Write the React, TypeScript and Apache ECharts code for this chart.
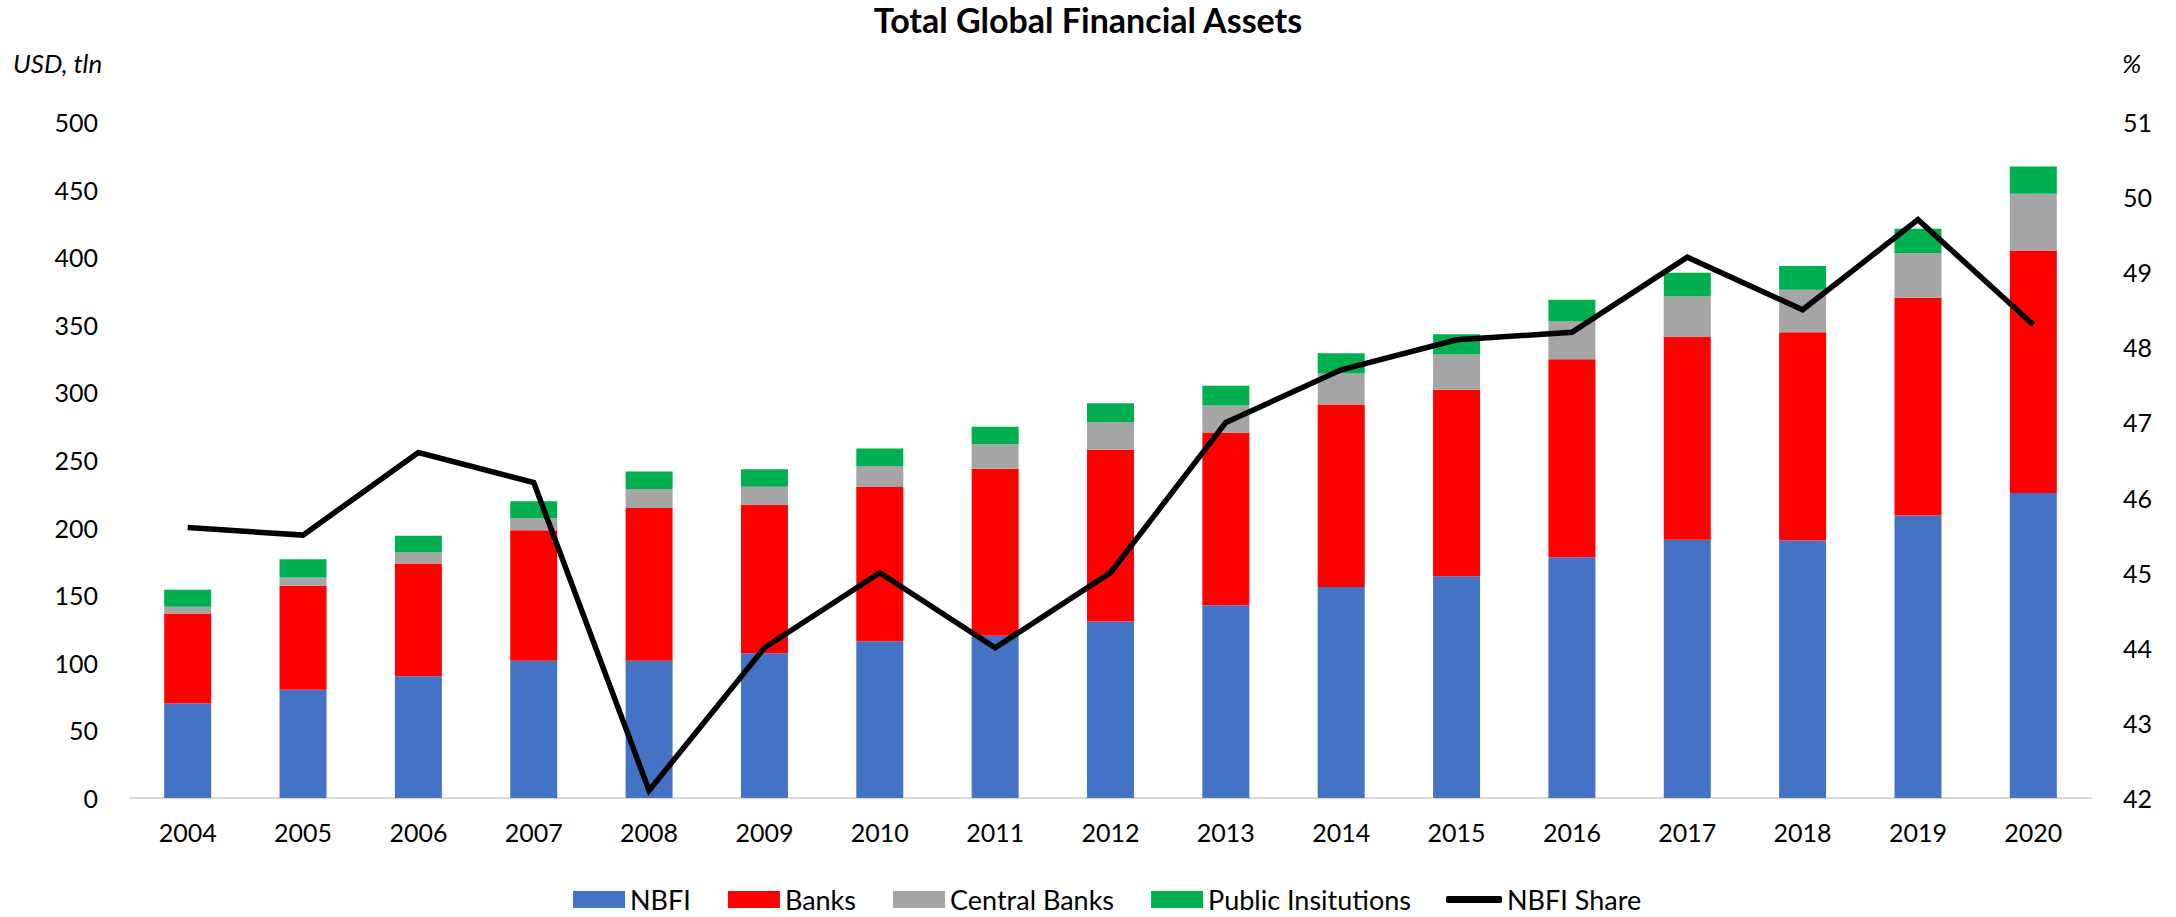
import React, { useEffect, useRef } from "react";
import * as echarts from "echarts";

const years = ["2004","2005","2006","2007","2008","2009","2010","2011","2012","2013","2014","2015","2016","2017","2018","2019","2020"];
const nbfi = [70, 80, 90, 101.5, 101.5, 107, 116, 120, 130.5, 142.5, 156, 164, 178, 191, 190.5, 209, 225.5];
const banks = [66.5, 77, 83.5, 96.5, 113, 109.7, 114, 123.6, 127, 127.4, 135, 138, 146.5, 150, 154, 161, 179.5];
const centralBanks = [5, 6, 8, 9, 14, 13.5, 15.5, 18, 20.5, 20.5, 23, 26, 28, 30, 31.5, 33, 42];
const publicInst = [12.5, 13.5, 12.5, 12.5, 13, 13, 13, 13, 14, 14.5, 15, 15, 16, 17.5, 17.5, 18, 20];
const nbfiShare = [45.6, 45.5, 46.6, 46.2, 42.1, 44.0, 45.0, 44.0, 45.0, 47.0, 47.7, 48.1, 48.2, 49.2, 48.5, 49.7, 48.3];

const FONT = "Lato, 'Noto Sans', sans-serif";

export default function App() {
  const ref = useRef<HTMLDivElement>(null);
  useEffect(() => {
    if (!ref.current) return;
    const chart = echarts.init(ref.current, null, { renderer: "svg" });
    const barW = 47;
    const legendText = { fontFamily: FONT, fontSize: 27, color: "#000", lineHeight: 24 };
    chart.setOption({
      animation: false,
      backgroundColor: "#ffffff",
      textStyle: { fontFamily: FONT },
      title: {
        text: "Total Global Financial Assets",
        left: "center",
        top: -3,
        textStyle: { fontFamily: FONT, fontSize: 34, fontWeight: "bold", color: "#000" },
      },
      graphic: [
        { type: "text", left: 13, top: 50, style: { text: "USD, tln", font: `italic 26px ${FONT}`, fill: "#000" } },
        { type: "text", left: 2122, top: 50, style: { text: "%", font: `italic 26px ${FONT}`, fill: "#000" } },
      ],
      legend: [
        {
          top: 881,
          left: 568,
          itemWidth: 52,
          itemHeight: 17,
          itemGap: 37,
          icon: "rect",
          textStyle: legendText,
          data: ["NBFI", "Banks", "Central Banks", "Public Insitutions"],
        },
        {
          top: 881,
          left: 1441,
          itemWidth: 56,
          itemHeight: 7,
          icon: "roundRect",
          textStyle: legendText,
          data: ["NBFI Share"],
        },
      ],
      grid: { left: 130, right: 85, top: 122, bottom: 119, containLabel: false },
      xAxis: {
        type: "category",
        data: years,
        axisLine: { lineStyle: { color: "#D9D9D9", width: 2 } },
        axisTick: { show: false },
        axisLabel: { fontFamily: FONT, fontSize: 25, color: "#000", margin: 21 },
      },
      yAxis: [
        {
          type: "value",
          min: 0,
          max: 500,
          interval: 50,
          splitLine: { show: false },
          axisLine: { show: false },
          axisTick: { show: false },
          axisLabel: { fontFamily: FONT, fontSize: 25, color: "#000", margin: 32 },
        },
        {
          type: "value",
          min: 42,
          max: 51,
          interval: 1,
          splitLine: { show: false },
          axisLine: { show: false },
          axisTick: { show: false },
          axisLabel: { fontFamily: FONT, fontSize: 25, color: "#000", margin: 32 },
        },
      ],
      series: [
        { name: "NBFI", type: "bar", stack: "a", barWidth: barW, data: nbfi, itemStyle: { color: "#4472C4" } },
        { name: "Banks", type: "bar", stack: "a", barWidth: barW, data: banks, itemStyle: { color: "#FF0000" } },
        { name: "Central Banks", type: "bar", stack: "a", barWidth: barW, data: centralBanks, itemStyle: { color: "#A5A5A5" } },
        { name: "Public Insitutions", type: "bar", stack: "a", barWidth: barW, data: publicInst, itemStyle: { color: "#00B050" } },
        {
          name: "NBFI Share",
          type: "line",
          yAxisIndex: 1,
          data: nbfiShare,
          symbol: "none",
          lineStyle: { color: "#000", width: 5.5, join: "miter" },
          itemStyle: { color: "#000" },
        },
      ],
    });
    return () => chart.dispose();
  }, []);
  return <div ref={ref} style={{ position: "fixed", left: 0, top: 0, width: 2176, height: 917 }} />;
}
